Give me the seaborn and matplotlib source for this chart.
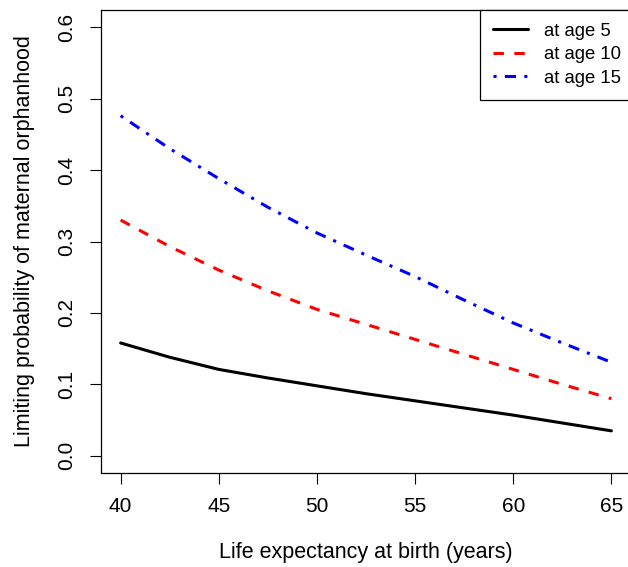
import pandas as pd
import seaborn as sns
import matplotlib.pyplot as plt

# values
life_exp = [40, 42.5, 45, 47.5, 50, 52.5, 55, 57.5, 60, 62.5, 65]
age5 = [0.158, 0.138, 0.121, 0.109, 0.098, 0.087, 0.077, 0.067, 0.057, 0.046, 0.035]
age10 = [0.330, 0.293, 0.260, 0.231, 0.205, 0.184, 0.163, 0.142, 0.121, 0.100, 0.080]
age15 = [0.476, 0.430, 0.388, 0.348, 0.312, 0.281, 0.251, 0.218, 0.186, 0.158, 0.131]
labels = ['at age 5', 'at age 10', 'at age 15']

df = pd.concat([
    pd.DataFrame({'life': life_exp, 'prob': vals, 'series': lab})
    for vals, lab in zip([age5, age10, age15], labels)
])

sns.set_style('ticks')
plt.rcParams['font.family'] = ['Liberation Sans', 'DejaVu Sans']
plt.rcParams['lines.scale_dashes'] = False
plt.rcParams['text.color'] = 'black'
plt.rcParams['axes.labelcolor'] = 'black'
plt.rcParams['xtick.color'] = 'black'
plt.rcParams['ytick.color'] = 'black'

fig = plt.figure(figsize=(6.28, 5.67), dpi=100)
ax = fig.add_axes([101 / 628, 94 / 567, 530 / 628, 463 / 567])

palette = {'at age 5': 'black', 'at age 10': '#ff0000', 'at age 15': '#0000ff'}
dashes = {'at age 5': '', 'at age 10': (7.5, 7.5), 'at age 15': (2.2, 6, 8, 6)}
sns.lineplot(data=df, x='life', y='prob', hue='series', style='series',
             palette=palette, dashes=dashes, linewidth=2.2, legend=False, ax=ax)

ax.set_xlim(39, 66)
ax.set_ylim(-0.024, 0.624)
ax.set_xticks([40, 45, 50, 55, 60, 65])
ax.set_yticks([0.0, 0.1, 0.2, 0.3, 0.4, 0.5, 0.6])
ax.set_yticklabels(['0.0', '0.1', '0.2', '0.3', '0.4', '0.5', '0.6'], rotation=90, va='center')
ax.tick_params(labelsize=15, length=8, width=0.8)
ax.tick_params(axis='x', pad=9)
ax.tick_params(axis='y', pad=10)
for s in ax.spines.values():
    s.set_color('black')
    s.set_linewidth(0.9)

ax.set_xlabel('Life expectancy at birth (years)', fontsize=15.5, labelpad=19)
ax.set_ylabel('Limiting probability of maternal orphanhood', fontsize=15.5, labelpad=16)

leg = ax.legend(ax.get_lines(), labels, loc='upper right', bbox_to_anchor=(1.006, 1),
                borderaxespad=0, fancybox=False, framealpha=1, edgecolor='black',
                fontsize=13.3, handlelength=1.9, labelspacing=0.35, borderpad=0.7,
                handletextpad=0.9)
leg.get_frame().set_linewidth(0.9)

fig.savefig('out.png', dpi=100)
